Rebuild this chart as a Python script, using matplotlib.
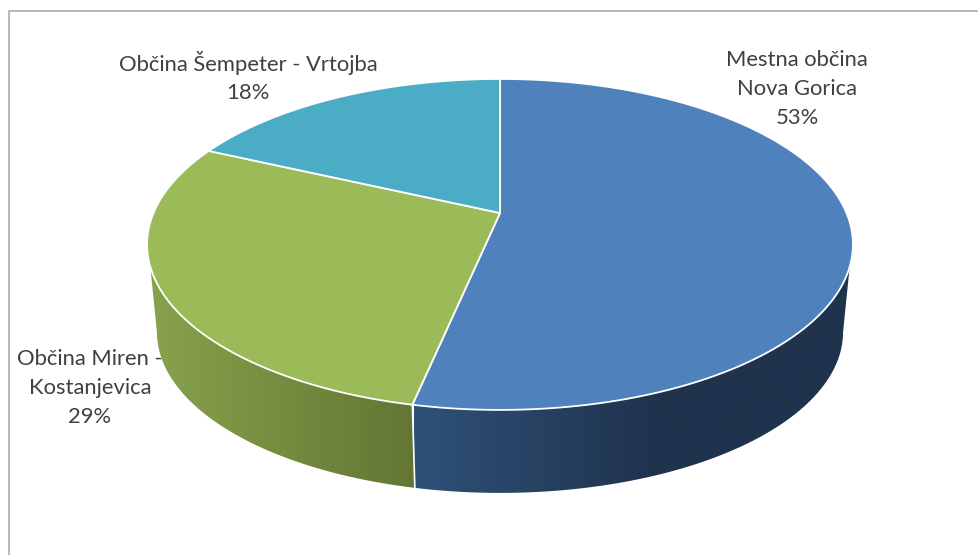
import numpy as np
import matplotlib
matplotlib.use("Agg")
import matplotlib.pyplot as plt
from matplotlib.patches import Polygon
from matplotlib.colors import LinearSegmentedColormap

categories = ["Mestna občina\nNova Gorica", "Občina Miren -\nKostanjevica", "Občina Šempeter - Vrtojba"]
values = [53.3, 28.6, 18.1]
top_colors = ["#4F81BD", "#9BBB59", "#4BACC6"]
label_xy = [(797, 89), (90, 388), (248, 77)]

CX, CY, RX, RY, K = 500.0, 213.0, 346.5, 159.5, 0.19
SCALE, CY2 = 0.972, 301.5
SIL_TOP = (108.5, 251.5)
SIL_BOTTOM = (101.0, 259.0)

plt.rcParams["font.family"] = ["Lato", "DejaVu Sans"]
fig = plt.figure(figsize=(9.79, 5.55), dpi=100)
ax = fig.add_axes([0, 0, 1, 1])


def ring(theta_deg, cy=CY, s=1.0):
    t = np.radians(theta_deg)
    u, v = np.sin(t), np.cos(t)
    w = 1 + K * v
    return np.column_stack((CX + s * RX * u / w, cy - s * RY * v / w))


edges = np.concatenate(([0], np.cumsum(values))) * 360.0 / sum(values)

# side walls
wall_styles = [
    ([(0, "#2F5179"), (0.55, "#1F334D"), (1, "#1F334D")], 414, 853),
    ([(0, "#88A24C"), (1, "#637533")], 150, 416),
]
for i, (stops, x0, x1) in enumerate(wall_styles):
    th_top = np.linspace(max(edges[i], SIL_TOP[0]), min(edges[i + 1], SIL_TOP[1]), 240)
    th_bot = np.linspace(max(edges[i], SIL_BOTTOM[0]), min(edges[i + 1], SIL_BOTTOM[1]), 240)
    poly = np.vstack((ring(th_top), ring(th_bot[::-1], CY2, SCALE)))
    cmap = LinearSegmentedColormap.from_list(f"wall{i}", stops)
    grad = np.linspace(0, 1, 256).reshape(1, -1)
    im = ax.imshow(grad, cmap=cmap, extent=(x0, x1, 500, 240), aspect="auto", zorder=1,
                   interpolation="bilinear")
    patch = Polygon(poly, closed=True, transform=ax.transData, facecolor="none", edgecolor="none")
    ax.add_patch(patch)
    im.set_clip_path(patch)

# seam between walls
seam = np.vstack((ring(edges[1]), ring(edges[1], CY2, SCALE)))
ax.plot(seam[:, 0], seam[:, 1], color="white", lw=1.2, zorder=2)

# top face
for i, col in enumerate(top_colors):
    th = np.linspace(edges[i], edges[i + 1], 240)
    pts = np.vstack(([[CX, CY]], ring(th)))
    ax.add_patch(Polygon(pts, closed=True, facecolor=col, edgecolor="white", lw=1.3,
                         joinstyle="miter", zorder=3))

# labels
for name, val, (x, y) in zip(categories, values, label_xy):
    ax.text(x, y, f"{name}\n{val:.0f}%", ha="center", va="center", fontsize=15.8,
            color="#404040", linespacing=1.54, zorder=5)

# chart frame
ax.plot([9, 9, 979], [555, 11, 11], color="#B8B8B8", lw=1.4, zorder=0)

ax.set_xlim(0, 979)
ax.set_ylim(555, 0)
ax.axis("off")
fig.savefig("out.png", dpi=100, facecolor="white")
